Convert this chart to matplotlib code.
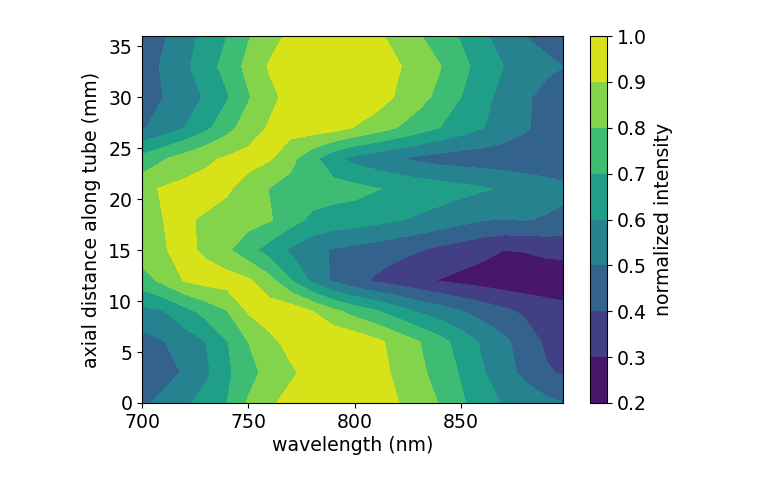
import numpy as np
import matplotlib
matplotlib.use("Agg")
import matplotlib.pyplot as plt

wavelength = [700, 710, 720, 730, 740, 750, 760, 770, 780, 790, 800, 810, 820, 830, 840, 850, 860, 870, 880, 890, 898]
distance = [0, 3, 6, 9, 12, 15, 18, 21, 24, 27, 30, 33, 36]

row_00 = [.48, .53, .58, .64, .70, .81, .885, .93, .96, .975, .97, .95, .905, .85, .795, .715, .65, .59, .56, .525, .50]
row_03 = [.42, .46, .51, .58, .68, .765, .835, .885, .935, .97, .98, .94, .88, .825, .76, .69, .61, .54, .475, .41, .39]
row_06 = [.46, .495, .545, .60, .695, .80, .875, .93, .97, .985, .97, .925, .865, .805, .735, .66, .585, .525, .45, .385, .36]
row_09 = [.57, .595, .665, .735, .795, .91, .95, .96, .90, .825, .76, .71, .65, .59, .55, .505, .46, .42, .385, .355, .34]
row_12 = [.755, .825, .905, .935, .945, .915, .835, .705, .58, .485, .43, .385, .355, .325, .295, .275, .26, .245, .235, .23, .22]
row_15 = [.85, .895, .92, .885, .815, .735, .655, .585, .53, .49, .47, .45, .425, .405, .375, .35, .325, .30, .305, .325, .337]
row_18 = [.87, .90, .91, .89, .87, .84, .81, .74, .68, .66, .65, .63, .61, .585, .56, .535, .505, .50, .505, .49, .47]
row_21 = [.87, .91, .93, .93, .91, .865, .795, .765, .75, .74, .73, .705, .685, .665, .65, .63, .61, .59, .57, .55, .53]
row_24 = [.73, .79, .84, .885, .91, .93, .91, .83, .73, .63, .57, .535, .505, .48, .46, .45, .445, .44, .43, .42, .41]
row_27 = [.49, .54, .60, .675, .765, .85, .91, .94, .95, .94, .895, .85, .80, .75, .70, .65, .605, .56, .515, .46, .43]
row_30 = [.44, .50, .555, .61, .69, .79, .875, .93, .96, .98, .98, .95, .89, .835, .775, .70, .63, .57, .52, .46, .42]
row_33 = [.44, .515, .58, .655, .735, .83, .91, .95, .97, .98, .98, .96, .91, .86, .805, .73, .66, .60, .565, .53, .50]
row_36 = [.42, .49, .56, .63, .70, .79, .865, .92, .95, .96, .95, .92, .87, .81, .75, .69, .62, .555, .50, .46, .44]

levels = [0.2, 0.3, 0.4, 0.5, 0.6, 0.7, 0.8, 0.9, 1.0]
intensity = np.array([row_00, row_03, row_06, row_09, row_12, row_15, row_18,
                      row_21, row_24, row_27, row_30, row_33, row_36])

W, H = 759, 484
plt.rcParams['font.size'] = 13.6
fig = plt.figure(figsize=(W / 100, H / 100), dpi=100)
ax = fig.add_axes([142 / W, 1 - 403 / H, (563 - 142) / W, (403 - 36) / H])
cax = fig.add_axes([590 / W, 1 - 403 / H, (607 - 590) / W, (403 - 36) / H])

cs = ax.contourf(wavelength, distance, intensity, levels=levels, cmap='viridis')
ax.set_xticks([700, 750, 800, 850])
ax.set_yticks([0, 5, 10, 15, 20, 25, 30, 35])
ax.set_xlabel('wavelength (nm)', labelpad=3)
ax.set_ylabel('axial distance along tube (mm)', labelpad=5)

cb = fig.colorbar(cs, cax=cax)
cb.set_ticks(levels)
cb.set_label('normalized intensity', labelpad=5)

fig.savefig('out.png', dpi=100)
